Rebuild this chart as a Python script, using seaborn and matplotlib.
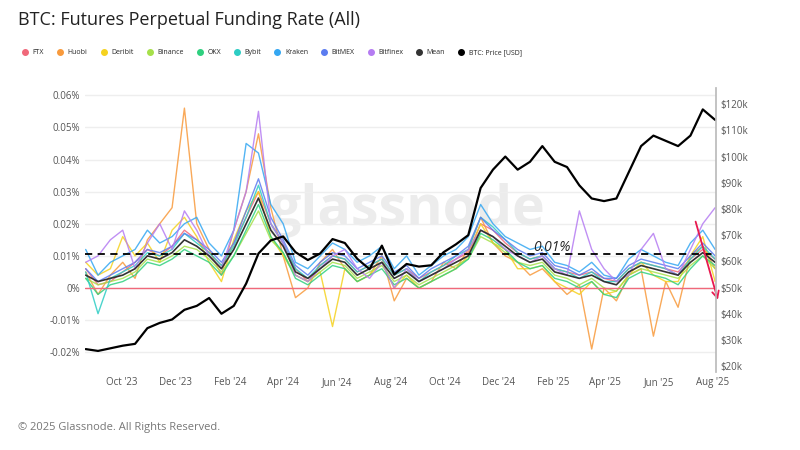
import numpy as np
import pandas as pd
import seaborn as sns
import matplotlib.pyplot as plt
import matplotlib.dates as mdates
from matplotlib.lines import Line2D

sns.set_theme(style="white")
plt.rcParams['font.family'] = ['Open Sans', 'DejaVu Sans']

dates = pd.date_range("2023-08-21", periods=52, freq="14D")

btc_price = [26.5, 25.8, 26.8, 27.8, 28.5, 34.5, 36.5, 37.8, 41.5, 43, 46, 40, 43, 51.5, 63, 68,
             69.5, 63.5, 60.5, 63, 68.5, 67, 61, 57, 66, 55, 59, 58, 58.5, 63.5, 66.5, 70, 88, 95, 100,
             95, 98, 104, 98, 96, 89, 84, 83, 84, 94, 104, 108, 106, 104, 108, 118, 114]

mean = [0.004, 0.002, 0.003, 0.004, 0.006, 0.010, 0.009, 0.011, 0.015, 0.013, 0.010, 0.006,
        0.012, 0.020, 0.028, 0.018, 0.013, 0.005, 0.003, 0.006, 0.009, 0.008, 0.004, 0.006, 0.008,
        0.003, 0.005, 0.002, 0.004, 0.006, 0.008, 0.010, 0.018, 0.016, 0.013, 0.010, 0.008, 0.009,
        0.005, 0.004, 0.003, 0.004, 0.002, 0.001, 0.005, 0.007, 0.006, 0.005, 0.004, 0.008, 0.011, 0.008]

ftx = [0.006, 0.001, 0.002, 0.005, 0.008, 0.012, 0.010, 0.013, 0.018, 0.015, 0.011, 0.007,
       0.014, 0.022, 0.030, 0.020, 0.014, 0.006, 0.002, 0.007, 0.010, 0.009, 0.005, 0.007, 0.009,
       0.004, 0.006, 0.003, 0.005, 0.007, 0.009, 0.011, 0.020, 0.018, 0.014, 0.011, 0.009, 0.010,
       0.006, 0.005, 0.004, 0.005, 0.003, 0.002, 0.006, 0.008, 0.007, 0.006, 0.005, 0.009, 0.012, 0.009]
huobi = [0.005, -0.002, 0.004, 0.008, 0.003, 0.015, 0.020, 0.025, 0.056, 0.020, 0.012, 0.004,
         0.018, 0.030, 0.048, 0.025, 0.010, -0.003, 0.000, 0.008, 0.012, 0.006, 0.002, 0.004, 0.010,
         -0.004, 0.003, 0.000, 0.002, 0.008, 0.006, 0.012, 0.022, 0.014, 0.010, 0.008, 0.004, 0.006,
         0.002, -0.002, 0.001, -0.019, 0.000, -0.004, 0.004, 0.006, -0.015, 0.002, -0.006, 0.010, 0.013, 0.006]
deribit = [0.008, 0.004, 0.006, 0.016, 0.010, 0.014, 0.008, 0.018, 0.022, 0.016, 0.008, 0.002,
           0.015, 0.024, 0.030, 0.016, 0.010, 0.004, 0.002, 0.005, -0.012, 0.006, 0.002, 0.004, 0.008,
           0.000, 0.004, 0.000, 0.002, 0.004, 0.006, 0.010, 0.020, 0.014, 0.012, 0.006, 0.006, 0.007,
           0.002, 0.000, -0.002, 0.002, -0.002, -0.001, 0.004, 0.008, 0.004, 0.002, 0.002, 0.010, 0.016, 0.002]
binance = [0.003, 0.001, 0.002, 0.003, 0.005, 0.009, 0.008, 0.010, 0.013, 0.012, 0.009, 0.005,
           0.010, 0.017, 0.024, 0.015, 0.011, 0.004, 0.002, 0.005, 0.008, 0.007, 0.003, 0.005, 0.007,
           0.002, 0.004, 0.001, 0.003, 0.005, 0.007, 0.009, 0.016, 0.014, 0.011, 0.008, 0.007, 0.008,
           0.004, 0.003, 0.001, 0.003, 0.000, -0.001, 0.004, 0.006, 0.005, 0.004, 0.003, 0.007, 0.010, 0.006]
okx = [0.003, -0.002, 0.001, 0.002, 0.004, 0.008, 0.007, 0.009, 0.012, 0.010, 0.008, 0.004,
       0.010, 0.018, 0.026, 0.016, 0.011, 0.003, 0.001, 0.004, 0.007, 0.006, 0.002, 0.004, 0.006,
       0.001, 0.003, 0.000, 0.002, 0.004, 0.006, 0.009, 0.017, 0.015, 0.012, 0.008, 0.006, 0.007,
       0.003, 0.002, 0.000, 0.002, -0.002, -0.003, 0.003, 0.005, 0.004, 0.003, 0.001, 0.006, 0.010, 0.007]
bybit = [0.005, -0.008, 0.003, 0.005, 0.007, 0.011, 0.010, 0.012, 0.017, 0.014, 0.011, 0.007,
         0.013, 0.022, 0.032, 0.020, 0.014, 0.006, 0.003, 0.007, 0.010, 0.009, 0.005, 0.007, 0.009,
         0.004, 0.006, 0.002, 0.005, 0.007, 0.010, 0.012, 0.022, 0.019, 0.015, 0.011, 0.009, 0.010,
         0.006, 0.005, 0.003, 0.005, 0.002, 0.002, 0.006, 0.008, 0.007, 0.006, 0.004, 0.009, 0.013, 0.009]
kraken = [0.012, 0.004, 0.008, 0.010, 0.012, 0.018, 0.014, 0.016, 0.020, 0.022, 0.014, 0.010,
          0.018, 0.045, 0.042, 0.026, 0.020, 0.008, 0.006, 0.010, 0.014, 0.012, 0.008, 0.010, 0.013,
          0.006, 0.010, 0.004, 0.007, 0.010, 0.012, 0.016, 0.026, 0.020, 0.016, 0.014, 0.012, 0.013,
          0.008, 0.007, 0.005, 0.008, 0.004, 0.003, 0.009, 0.012, 0.010, 0.008, 0.007, 0.014, 0.018, 0.012]
bitmex = [0.006, 0.002, 0.004, 0.006, 0.008, 0.012, 0.011, 0.013, 0.017, 0.015, 0.012, 0.008,
          0.014, 0.024, 0.034, 0.022, 0.015, 0.007, 0.004, 0.008, 0.011, 0.010, 0.006, 0.008, 0.010,
          0.005, 0.007, 0.003, 0.006, 0.008, 0.010, 0.013, 0.022, 0.018, 0.015, 0.012, 0.010, 0.011,
          0.007, 0.006, 0.004, 0.006, 0.003, 0.003, 0.007, 0.009, 0.008, 0.007, 0.006, 0.010, 0.014, 0.010]
bitfinex = [0.008, 0.010, 0.015, 0.018, 0.006, 0.014, 0.020, 0.012, 0.024, 0.018, 0.010, 0.006,
            0.018, 0.030, 0.055, 0.020, 0.014, 0.004, 0.002, 0.006, 0.010, 0.012, 0.006, 0.003, 0.008,
            0.000, 0.006, 0.002, 0.004, 0.006, 0.009, 0.012, 0.018, 0.016, 0.012, 0.010, 0.008, 0.010,
            0.006, 0.004, 0.024, 0.012, 0.006, 0.002, 0.004, 0.012, 0.017, 0.006, 0.004, 0.012, 0.020, 0.025]

exchanges = ["FTX", "Huobi", "Deribit", "Binance", "OKX", "Bybit", "Kraken", "BitMEX", "Bitfinex"]
series = [ftx, huobi, deribit, binance, okx, bybit, kraken, bitmex, bitfinex]
colors = ["#f0687a", "#f89a3c", "#f5d21f", "#a6e04a", "#2fd07f", "#2dcdc4", "#34a7f2", "#5b7cf0", "#b57cf2"]

df = pd.DataFrame({"date": np.tile(dates, len(exchanges)),
                   "rate": np.concatenate(series),
                   "exchange": np.repeat(exchanges, len(dates))})

fig = plt.figure(figsize=(8, 4.5), dpi=100)
ax = fig.add_axes([0.106, 0.173, 0.789, 0.631])
sns.lineplot(data=df, x="date", y="rate", hue="exchange", palette=dict(zip(exchanges, colors)),
             linewidth=1, ax=ax, legend=False, alpha=0.85)
sns.lineplot(x=dates, y=mean, color="#333333", linewidth=1.2, ax=ax)
ax.axhline(0, color="#f0687a", linewidth=1)
ax.axhline(0.0105, color="black", linestyle=(0, (4, 3)), linewidth=1.3)
ax.text(pd.Timestamp("2025-01-10"), 0.0115, "0.01%", style="italic", fontsize=10)
ax.text(pd.Timestamp("2024-08-20"), 0.024, "glassnode", fontsize=40, color="#ececec", ha="center",
        va="center", zorder=0, fontweight="bold")
ax.set_ylim(-0.0262, 0.0622)
ax.set_yticks([-0.02, -0.01, 0, 0.01, 0.02, 0.03, 0.04, 0.05, 0.06])
ax.set_yticklabels(["-0.02%", "-0.01%", "0%", "0.01%", "0.02%", "0.03%", "0.04%", "0.05%", "0.06%"])
ax.set_xlim(pd.Timestamp("2023-08-20"), pd.Timestamp("2025-08-05"))
ax.xaxis.set_major_locator(mdates.MonthLocator(bymonth=[2, 4, 6, 8, 10, 12]))
ax.xaxis.set_major_formatter(mdates.DateFormatter("%b '%y"))
ax.grid(axis="y", color="#eeeeee")
ax.set_xlabel("")
ax.set_ylabel("")
ax.tick_params(labelsize=7, colors="#555555", length=0)
for s in ax.spines.values():
    s.set_visible(False)
ax.annotate("", xy=(pd.Timestamp("2025-08-08"), -0.0045), xytext=(pd.Timestamp("2025-07-12"), 0.0215),
            arrowprops=dict(arrowstyle="->", color="#e8194f", lw=1.3), annotation_clip=False)

ax2 = ax.twinx()
sns.lineplot(x=dates, y=btc_price, color="black", linewidth=1.6, ax=ax2)
ax2.set_ylim(17.7, 126.1)
ax2.set_yticks(range(20, 121, 10))
ax2.set_yticklabels([f"${v}k" for v in range(20, 121, 10)])
ax2.tick_params(labelsize=7, colors="#555555", length=0)
for s in ax2.spines.values():
    s.set_visible(False)
ax2.spines["right"].set_visible(True)
ax2.spines["right"].set_color("#bbbbbb")
ax2.set_ylabel("")

fig.text(0.022, 0.945, "BTC: Futures Perpetual Funding Rate (All)", fontsize=13, color="#222222")
handles = [Line2D([], [], marker="o", linestyle="", color=c, markersize=4) for c in colors]
handles += [Line2D([], [], marker="o", linestyle="", color="#333333", markersize=4),
            Line2D([], [], marker="o", linestyle="", color="black", markersize=4)]
fig.legend(handles, exchanges + ["Mean", "BTC: Price [USD]"], loc="upper left", bbox_to_anchor=(0.015, 0.905),
           ncol=11, frameon=False, fontsize=5, handletextpad=0.1, columnspacing=1.3)
fig.text(0.022, 0.045, "© 2025 Glassnode. All Rights Reserved.", fontsize=8, color="#777777")
fig.savefig("out.png", dpi=100)
